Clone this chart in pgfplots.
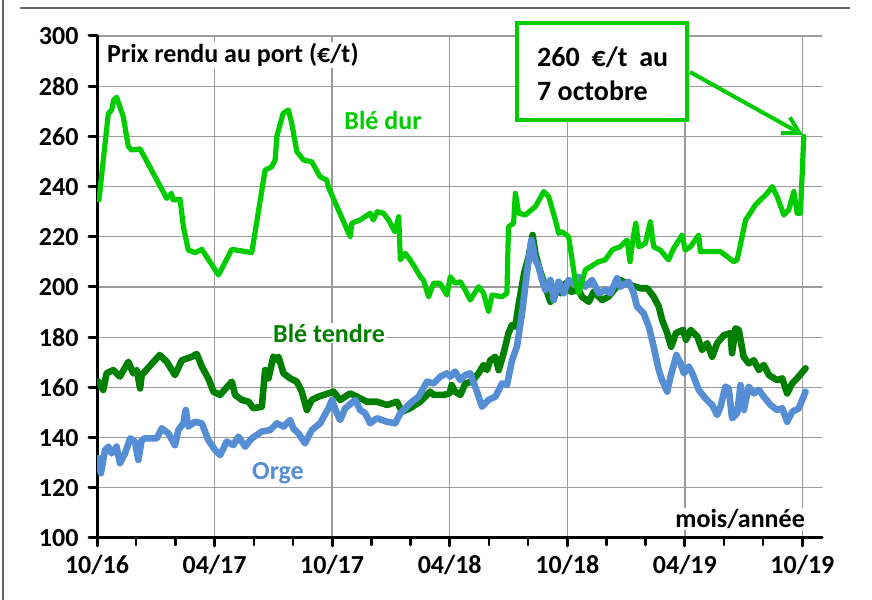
\documentclass[border=0pt]{standalone}
\usepackage{pgfplots}
\pgfplotsset{compat=1.18}
\usepackage{fontspec}
\setmainfont{Carlito}
\usetikzlibrary{arrows.meta}
\definecolor{ldur}{RGB}{0,204,0}
\definecolor{ltendre}{RGB}{0,128,0}
\definecolor{lorge}{RGB}{85,142,213}
\definecolor{gridgray}{RGB}{155,155,155}
\newcommand\bigf{\fontsize{26bp}{30bp}\selectfont\bfseries}
\begin{document}
\begin{tikzpicture}[x=1bp,y=1bp]
\path[use as bounding box] (0,0) rectangle (872,600);
\draw[gray!80!black, line width=1.5bp] (3,0) -- (3,600);
\draw[gray!80!black, line width=1.5bp] (20,592) -- (850,592);
\begin{axis}[
 at={(97bp,62bp)}, anchor=south west,
 scale only axis, width=725bp, height=502bp,
 xmin=0, xmax=37, ymin=100, ymax=300,
 axis x line*=bottom, axis y line*=left,
 axis line style={-, line width=3bp, black},
 xtick={0,6,...,36},
 xticklabels={10/16,04/17,10/17,04/18,10/18,04/19,10/19},
 minor xtick={2,4,8,10,14,16,20,22,26,28,32,34},
 ytick={100,120,...,300},
 tick align=outside,
 major tick length=8bp, minor tick length=7bp,
 major tick style={black, line width=3bp},
 minor tick style={black, line width=2.5bp},
 xmajorgrids, ymajorgrids,
 major grid style={gridgray, line width=1.3bp},
 tick label style={font=\bigf},
 xticklabel style={yshift=-6bp},
 yticklabel style={xshift=-7bp},
 /pgf/number format/assume math mode=true,
 line join=round, line cap=round,
]
\addplot[ltendre, line width=6.6bp] table {
0.07 162.3
0.32 159
0.49 165.6
0.83 166.9
1.17 164.3
1.6 170.2
1.85 165.6
2.03 166.9
2.2 159.6
2.28 164.9
3.2 172.9
3.56 170.2
3.98 164.9
4.33 170.8
4.84 172.2
5.09 173.3
5.35 168.3
5.68 163.6
5.94 158.3
6.28 157
6.88 162.3
7.05 157
7.39 155
7.73 154.3
7.98 151.7
8.41 152.3
8.58 166.9
8.75 163.6
9.0 172.2
9.09 170.8
9.26 172.2
9.52 165.6
9.86 163.6
10.2 162.3
10.45 158.3
10.71 151
10.96 155
11.3 156.3
12.07 158.3
12.41 155
12.92 157.6
13.26 156.3
13.77 154.3
14.28 154.3
14.8 153
15.31 154.3
15.56 150.3
15.98 151.7
16.5 154.3
17.0 158.3
17.18 157
17.69 157
18.0 157.6
18.1 160.9
18.28 158.3
18.54 157
18.8 161.6
19.14 162.3
19.47 165.6
19.73 168.9
19.9 166.9
20.07 170.8
20.33 172.2
20.5 166.9
20.75 173.6
21.0 181.6
21.18 184.9
21.35 184.2
21.5 192.2
21.8 205.5
22.03 212.1
22.23 220.7
22.37 213.4
22.6 206.8
22.88 200.1
23.14 194.1
23.39 200.1
23.65 197.5
23.9 201.5
24.2 198.1
24.58 198.8
24.75 196.1
25.1 194.1
25.35 198.1
25.78 194.8
26.1 196.1
26.46 199.5
26.7 202.8
27.2 200.8
27.74 199.5
28.08 199.5
28.41 196.1
28.67 192.2
28.84 186.9
29.1 181.6
29.3 176.2
29.55 181.6
29.9 182.9
30.06 179
30.3 182.9
30.64 180.2
30.88 174.9
31.14 177.6
31.39 172.2
31.65 177.6
31.99 180.8
32.33 181.6
32.41 173.6
32.58 183.5
32.75 182.9
33.0 172.2
33.26 169.6
33.52 170.8
33.78 166.9
34.03 168.9
34.29 164.9
34.71 162.9
34.97 163.6
35.22 157.6
35.48 161.6
35.73 163.6
36.16 167.6
};
\addplot[lorge, line width=6.6bp] table {
0.07 131.8
0.2 125.8
0.41 135
0.58 136.4
0.75 133.7
1.0 136.4
1.17 129.8
1.43 133.7
1.69 139.7
1.94 138.4
2.11 131.1
2.28 139
2.45 139.7
3.05 139.7
3.3 143.7
3.64 141.7
3.98 137
4.15 143
4.41 145.7
4.53 151
4.66 144.4
5.0 146.3
5.35 145.7
5.68 139
6.03 135
6.28 133
6.62 138.4
6.96 137
7.22 140.4
7.56 136.4
7.9 139.7
8.41 142.4
8.84 143
9.18 145.7
9.52 144.4
9.86 147
10.02 143.6
10.28 141.7
10.62 137.7
10.96 143
11.39 145.7
11.81 151.7
11.99 155
12.24 149.7
12.41 147
12.67 151.7
13.18 155
13.43 151
13.69 149.7
13.94 145.7
14.28 147.7
14.8 146.3
15.22 145.7
15.48 149.7
15.98 153.7
16.41 156.3
16.84 162.3
17.18 161.6
17.52 164.3
17.86 165.6
18.03 164.3
18.28 166.3
18.54 162.9
18.79 164.9
19.05 165.6
19.3 160.3
19.65 152.3
19.98 155
20.33 156.3
20.67 161.6
20.92 160.9
21.18 170.8
21.43 176.2
21.69 189.5
21.94 205.5
22.17 218.7
22.37 210.8
22.54 208.1
22.71 202.8
22.88 198.8
23.14 202.8
23.31 194.8
23.56 202.1
23.82 197.5
24.07 202.8
24.33 201.5
24.58 204.1
24.92 200.1
25.27 202.8
25.6 197.5
25.94 198.8
26.2 197.5
26.54 203.5
26.71 200.1
27.13 202.1
27.39 197.5
27.56 192.2
27.9 189.5
28.16 184.2
28.41 176.2
28.67 166.9
28.84 162.9
29.1 158.3
29.27 164.3
29.57 172.9
29.78 169.6
29.95 165.6
30.2 168.3
30.38 165.6
30.71 159
31.05 155.6
31.39 153
31.65 149
31.82 152.3
32.07 160.3
32.24 159.6
32.41 147.7
32.67 149.7
32.84 160.9
33.01 151
33.26 160.3
33.52 157.6
33.78 159
34.03 156.3
34.37 153
34.71 151
34.97 151.7
35.22 146.3
35.48 150.3
35.82 151.7
36.16 158.3
};
\addplot[ldur, line width=5.2bp] table {
0.1 234.7
0.32 250.6
0.58 269.2
0.75 270.5
0.85 274.5
1.0 275.6
1.34 267.9
1.6 255.9
1.77 254.6
2.2 255
3.56 235.3
3.8 237.3
3.88 234.7
4.24 234.9
4.41 224
4.66 214.7
5.0 213.7
5.35 215
6.2 204.8
6.88 215
7.9 213.7
8.58 246.6
8.92 247.9
9.09 250.6
9.18 260
9.5 269.2
9.77 270.5
9.94 265.2
10.2 253.9
10.54 250.6
10.96 249.9
11.39 243.9
11.73 242.6
11.8 240
12.92 220
13.0 225.4
13.43 226.7
13.94 229.4
14.1 226.7
14.3 230
14.62 229.4
14.88 226.7
15.2 222
15.4 228
15.48 210.8
15.73 213.4
15.98 210.8
16.15 208.8
16.5 204.1
16.66 202.8
16.92 196.1
17.18 201.5
17.5 201.5
17.86 196.8
18.03 204.1
18.28 201.5
18.54 202.1
18.79 198.8
19.05 194.8
19.47 200.1
19.73 197.5
19.98 190.2
20.16 196.8
20.67 196.1
20.92 197.5
21.0 224
21.26 225.4
21.35 237.3
21.52 229.4
21.86 228.7
22.37 232
22.8 238
23.05 236
23.39 226.7
23.56 221.4
23.73 222
24.07 220
24.4 202.8
24.58 197.5
24.92 206.8
25.6 210.1
25.94 210.8
26.29 214.7
26.46 215.4
26.7 216
27.05 218.7
27.2 210.1
27.4 221.4
27.5 225.4
27.65 216
27.98 217.3
28.24 226
28.41 216
28.75 214.7
29.17 210.8
29.43 215.4
29.86 220.7
30.02 214.7
30.28 216
30.71 220.7
30.79 214.1
31.82 214.1
32.5 210.1
32.67 210.8
33.1 226.7
33.44 230.7
33.6 232.7
33.86 234.7
34.2 237.3
34.46 240
34.71 236
35.05 228.7
35.3 230.7
35.56 238
35.73 229.4
35.9 229.4
36.07 260
};
\end{axis}
\node[anchor=west, fill=white, inner sep=1bp, font=\bigf] at (106,545) {Prix rendu au port (€/t)};
\node[fill=white, inner sep=1bp, text=ldur, font=\bigf] at (383,480) {Blé dur};
\node[fill=white, inner sep=1bp, text=ltendre, font=\bigf] at (329,267) {Blé tendre};
\node[fill=white, inner sep=1bp, text=lorge, font=\bigf] at (278,127) {Orge};
\node[anchor=east, fill=white, inner sep=1bp, font=\bigf] at (806,81) {mois/année};
\draw[ldur, line width=4.5bp, fill=white] (517,480) rectangle (687,577);
\node[anchor=base west, inner sep=0pt, font=\fontsize{28bp}{32bp}\selectfont\bfseries] at (537,533) {\makebox[131bp][s]{260 €/t au}};
\node[anchor=base west, inner sep=0pt, font=\fontsize{28bp}{32bp}\selectfont\bfseries] at (537,499) {7 octobre};
\draw[ldur, line width=4bp, -{Straight Barb[length=16bp, width=18bp, line width=4bp]}] (690,528) -- (803,465);
\end{tikzpicture}
\end{document}
